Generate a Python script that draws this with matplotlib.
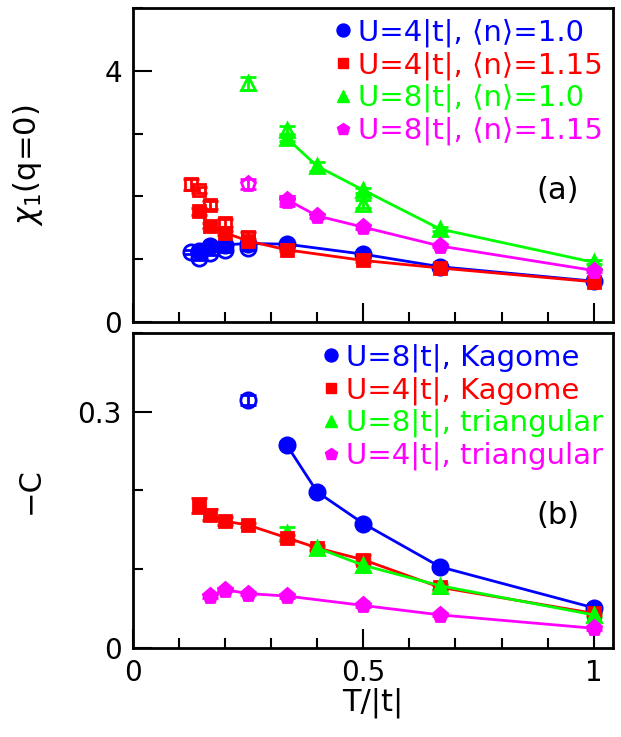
import numpy as np
import matplotlib
matplotlib.use("Agg")
import matplotlib.pyplot as plt
from matplotlib.lines import Line2D
from matplotlib.ticker import MultipleLocator

plt.rcParams['font.family'] = ['DejaVu Sans']
plt.rcParams['mathtext.fontset'] = 'dejavusans'

# ---- panel (a): chi_1(q=0) vs T/|t| ----
# U=4|t|, <n>=1.0  (filled = connected, open = extra points)
a_blue_T = [1/7, 1/6, 1/5, 1/4, 1/3, 1/2, 2/3, 1.0]
a_blue_v = [1.13, 1.21, 1.23, 1.25, 1.24, 1.08, 0.88, 0.65]
a_blue_e = [0.03, 0.03, 0.03, 0.03, 0.02, 0.02, 0.02, 0.02]
a_blue_oT = [1/8, 1/7, 1/6, 1/5, 1/4]
a_blue_ov = [1.12, 1.02, 1.10, 1.15, 1.18]
a_blue_oe = [0.03, 0.03, 0.03, 0.03, 0.03]

# U=4|t|, <n>=1.15
a_red_T = [1/7, 1/6, 1/5, 1/4, 1/3, 1/2, 2/3, 1.0]
a_red_v = [1.76, 1.53, 1.42, 1.29, 1.15, 0.98, 0.86, 0.64]
a_red_e = [0.05, 0.04, 0.03, 0.03, 0.02, 0.02, 0.02, 0.02]
a_red_oT = [1/8, 1/7, 1/6, 1/5, 1/4]
a_red_ov = [2.19, 2.10, 1.86, 1.58, 1.36]
a_red_oe = [0.09, 0.05, 0.06, 0.06, 0.08]

# U=8|t|, <n>=1.0
a_grn_T = [1/3, 0.4, 1/2, 2/3, 1.0]
a_grn_v = [2.93, 2.48, 2.10, 1.48, 0.95]
a_grn_e = [0.05, 0.07, 0.04, 0.03, 0.03]
a_grn_oT = [1/4, 1/3, 1/2]
a_grn_ov = [3.80, 3.06, 1.88]
a_grn_oe = [0.10, 0.06, 0.06]

# U=8|t|, <n>=1.15
a_mag_T = [1/3, 0.4, 1/2, 2/3, 1.0]
a_mag_v = [1.95, 1.69, 1.51, 1.21, 0.82]
a_mag_e = [0.05, 0.03, 0.03, 0.02, 0.02]
a_mag_oT = [1/4, 1/3]
a_mag_ov = [2.20, 1.93]
a_mag_oe = [0.08, 0.08]

# ---- panel (b): -C vs T/|t| ----
b_blue_T = [1/3, 0.4, 1/2, 2/3, 1.0]
b_blue_v = [0.258, 0.198, 0.158, 0.103, 0.051]
b_blue_e = [0.003, 0.003, 0.002, 0.002, 0.002]
b_blue_oT = [1/4]
b_blue_ov = [0.315]
b_blue_oe = [0.006]

b_red_T = [1/7, 1/6, 1/5, 1/4, 1/3, 0.4, 1/2, 2/3, 1.0]
b_red_v = [0.181, 0.169, 0.161, 0.156, 0.140, 0.127, 0.112, 0.077, 0.044]
b_red_e = [0.010, 0.007, 0.005, 0.003, 0.004, 0.003, 0.006, 0.003, 0.002]

b_grn_T = [0.4, 1/2, 2/3, 1.0]
b_grn_v = [0.127, 0.105, 0.079, 0.042]
b_grn_e = [0.004, 0.008, 0.004, 0.003]
b_grn_oT = [1/3]
b_grn_ov = [0.146]
b_grn_oe = [0.007]

b_mag_T = [1/6, 1/5, 1/4, 1/3, 1/2, 2/3, 1.0]
b_mag_v = [0.066, 0.074, 0.069, 0.066, 0.054, 0.042, 0.025]
b_mag_e = [0.002, 0.002, 0.002, 0.002, 0.002, 0.002, 0.002]

labels_a = ["U=4|t|, \u27e8n\u27e9=1.0", "U=4|t|, \u27e8n\u27e9=1.15",
            "U=8|t|, \u27e8n\u27e9=1.0", "U=8|t|, \u27e8n\u27e9=1.15"]
labels_b = ["U=8|t|, Kagome", "U=4|t|, Kagome",
            "U=8|t|, triangular", "U=4|t|, triangular"]

colors = ['#0000ff', '#ff0000', '#00ff00', '#ff00ff']
markers = ['o', 's', '^', 'p']
msizes = [11, 8.5, 10, 11]

fig = plt.figure(figsize=(6.21, 7.37), dpi=100)
ax_a = fig.add_axes([0.2142, 0.5631, 0.7730, 0.4260])
ax_b = fig.add_axes([0.2142, 0.1208, 0.7730, 0.4274])


def series(ax, T, v, e, i, filled=True, line=True):
    c = colors[i]
    ax.errorbar(T, v, yerr=e, color=c, marker=markers[i], ms=msizes[i],
                mfc=c if filled else 'none', mec=c, mew=2,
                ls='-' if line else 'none', lw=2, elinewidth=2,
                capsize=6, capthick=2, zorder=3)


series(ax_a, a_blue_oT, a_blue_ov, a_blue_oe, 0, filled=False, line=False)
series(ax_a, a_red_oT, a_red_ov, a_red_oe, 1, filled=False, line=False)
series(ax_a, a_grn_oT, a_grn_ov, a_grn_oe, 2, filled=False, line=False)
series(ax_a, a_mag_oT, a_mag_ov, a_mag_oe, 3, filled=False, line=False)
series(ax_a, a_blue_T, a_blue_v, a_blue_e, 0)
series(ax_a, a_red_T, a_red_v, a_red_e, 1)
series(ax_a, a_grn_T, a_grn_v, a_grn_e, 2)
series(ax_a, a_mag_T, a_mag_v, a_mag_e, 3)

series(ax_b, b_blue_oT, b_blue_ov, b_blue_oe, 0, filled=False, line=False)
series(ax_b, b_grn_oT, b_grn_ov, b_grn_oe, 2, filled=False, line=False)
series(ax_b, b_blue_T, b_blue_v, b_blue_e, 0)
series(ax_b, b_red_T, b_red_v, b_red_e, 1)
series(ax_b, b_grn_T, b_grn_v, b_grn_e, 2)
series(ax_b, b_mag_T, b_mag_v, b_mag_e, 3)

for ax, labels in [(ax_a, labels_a), (ax_b, labels_b)]:
    handles = [Line2D([], [], color=colors[i], marker=markers[i], ms=msizes[i] * 0.85,
                      ls='none') for i in range(4)]
    ax.legend(handles, labels, loc='upper right', frameon=False, fontsize=21,
              labelcolor=colors, handlelength=0.6, handletextpad=0.2,
              labelspacing=0.15, borderaxespad=0.05, borderpad=0.3)
    ax.set_xlim(0, 1.042)
    ax.xaxis.set_major_locator(MultipleLocator(0.5))
    ax.xaxis.set_minor_locator(MultipleLocator(0.1))
    ax.tick_params(which='both', direction='in', top=False, right=False, width=1.5)
    ax.tick_params(which='major', length=14, labelsize=20, pad=8)
    ax.tick_params(which='minor', length=7)
    for s in ax.spines.values():
        s.set_linewidth(2)

ax_a.set_ylim(0, 5)
ax_a.set_yticks([0, 4])
ax_a.yaxis.set_minor_locator(MultipleLocator(1))
ax_a.set_xticklabels([])
ax_a.set_ylabel(r'$\chi_1$(q=0)', fontsize=22)
ax_a.yaxis.set_label_coords(-0.183, 0.5)
ax_a.text(0.885, 0.42, '(a)', transform=ax_a.transAxes, fontsize=22,
          ha='center', va='center')

ax_b.set_ylim(0, 0.4)
ax_b.set_yticks([0, 0.3])
ax_b.set_yticklabels(['0', '0.3'])
ax_b.yaxis.set_minor_locator(MultipleLocator(0.1))
ax_b.set_xticks([0, 0.5, 1.0])
ax_b.set_xticklabels(['0', '0.5', '1'])
ax_b.set_xlabel('T/|t|', fontsize=22, labelpad=0)
ax_b.set_ylabel('\u2212C', fontsize=22)
ax_b.yaxis.set_label_coords(-0.183, 0.5)
ax_b.text(0.885, 0.42, '(b)', transform=ax_b.transAxes, fontsize=22,
          ha='center', va='center')

fig.savefig('out.png', dpi=100)
